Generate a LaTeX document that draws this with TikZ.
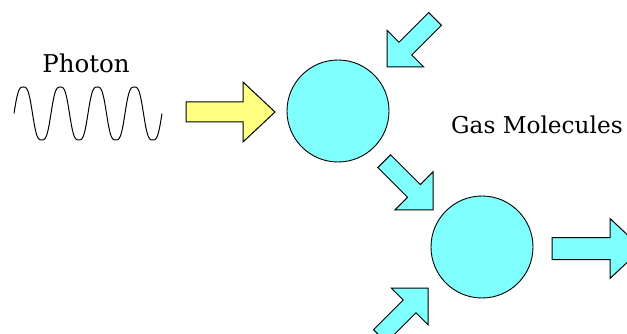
\documentclass[tikz,border=0pt]{standalone}
\usepackage{fontspec}
\setmainfont{DejaVu Serif}
\definecolor{molcyan}{HTML}{80FFFF}
\definecolor{photyellow}{HTML}{FFFF80}
\tikzset{
  molecule/.style={circle, draw=black, line width=0.9pt, fill=molcyan, minimum size=102pt, inner sep=0pt},
  blockarr/.style={draw=black, line width=1pt, line join=miter},
  label text/.style={font=\fontsize{24.5}{28}\selectfont, inner sep=0pt},
  wave/.style={draw=black, line width=1pt}
}
% #1 style, #2 x, #3 y (tip), #4 angle, #5 total length, #6 shaft width, #7 head width, #8 head length
\newcommand\BlockArrow[8]{%
  \filldraw[blockarr, #1, shift={(#2,#3)}, rotate=#4]
    (0,0) -- (-#8,#7/2) -- (-#8,#6/2) -- (-#5,#6/2) -- (-#5,-#6/2)
    -- (-#8,-#6/2) -- (-#8,-#7/2) -- cycle;}
\begin{document}
\begin{tikzpicture}[x=1pt, y=-1pt]
  \useasboundingbox (0,0) rectangle (627,334);
  \clip (0,0) rectangle (627,334);
  % photon wave
  \draw[wave] plot[domain=0:1440, samples=289, smooth]
    ({14+\x/360*37},{113.5-26.5*(1.4*sin(\x)-0.4*sin(\x)^3)});
  \node[label text, anchor=base] (photon) at (86,73) {Photon};
  \node[label text, font=\fontsize{23.2}{27}\selectfont, anchor=base west] (gas) at (451,134) {Gas Molecules};
  % molecules
  \node[molecule] (m1) at (338,111) {};
  \node[molecule] (m2) at (482,247) {};
  % arrows
  \BlockArrow{fill=photyellow}{275}{112}{0}{89}{20}{60}{32}
  \BlockArrow{fill=molcyan}{642}{248.5}{0}{90}{22}{60}{32}
  \BlockArrow{fill=molcyan}{387}{67}{225}{68}{18}{52}{26}
  \BlockArrow{fill=molcyan}{433}{210}{315}{69}{18}{54}{27}
  \BlockArrow{fill=molcyan}{428}{288}{45}{68}{18}{52}{26}
\end{tikzpicture}
\end{document}
